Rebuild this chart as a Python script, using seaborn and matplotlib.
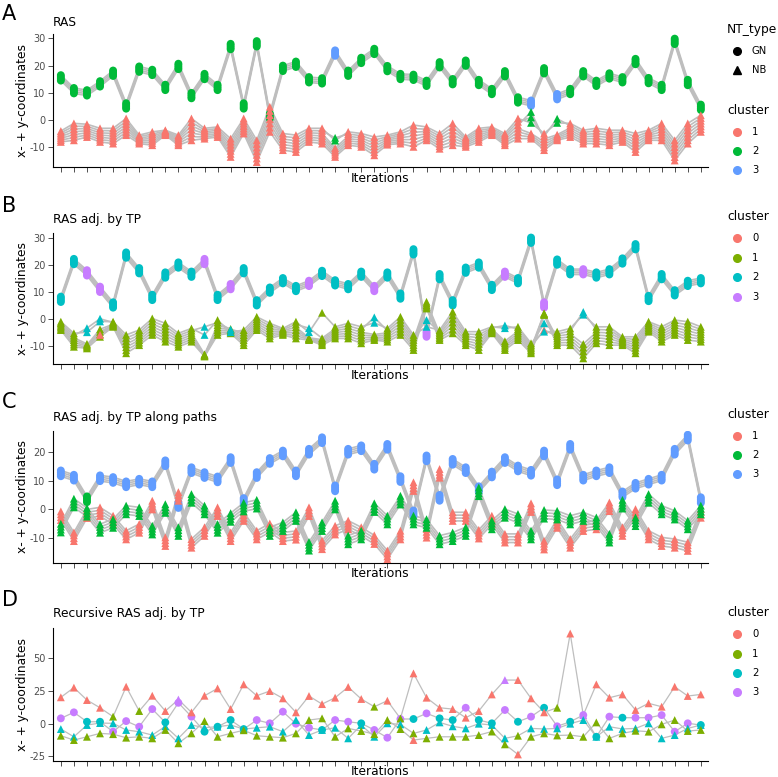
import numpy as np
import pandas as pd
import matplotlib.pyplot as plt
import seaborn as sns
from matplotlib.lines import Line2D

iterations = list(range(1, 51))

# Panel A - RAS
a_gn = [15.5, 10.8, 10, 13.3, 17.2, 5.2, 18.7, 17.5, 12, 19.7, 9, 16, 12, 27, 5.2, 28, 1.5, 19, 20.5, 14.8,
        14.4, 24.6, 17.2, 21.9, 25.2, 18.9, 16, 15.7, 13.5, 20.3, 14.1, 20.9, 13.8, 10.5, 17, 7.4, 6.2, 18.1, 8.6, 10.5,
        17, 13.5, 16.2, 14.8, 21.5, 14.5, 12, 28.9, 13.8, 4.7]
a_gn_other = [22, 37, 39]   # GN iterations in cluster 3
a_nb_lo = [-8, -7.4, -6.2, -8, -8.6, -5.5, -8.6, -9.2, -5.5, -9.2, -7.4, -6.8, -6.2, -13.5, -4.9, -15.4, -4.3, -11, -11.7, -8,
           -8.6, -13.5, -9.2, -9.8, -12.9, -9, -8.6, -9.8, -7.4, -10.5, -9.2, -9.8, -8, -5.5, -9.2, -6.8, -6.8, -11, -7.4, -6.2,
           -8.6, -8.6, -9.2, -8, -11.7, -7.4, -7.4, -14.8, -8.6, -4.3]
a_nb_hi = [-4, -1.2, -1.5, -3, -3, 0.6, -5.5, -4.3, -3.7, -5.5, 0.6, -3, -2.5, -6.8, 0.6, -7.4, 4.9, -4.9, -5.5, -3,
           -3, -8.6, -4.3, -4.9, -6.2, -5.5, -4.3, -1.8, -2.5, -4.9, -1.2, -6.2, -3, -2.5, -4.9, 0.6, -3, -4.9, -4.3, -1.2,
           -3.7, -3, -3.7, -3.7, -4.9, -3.7, -1.2, -7.4, -1.2, 1.8]
# (iteration, low, high, cluster, n items)
a_nb_alt = [(22, -7.5, -6.5, '2', 2), (37, -1, 3, '2', 3), (39, -1, 0.5, '2', 2)]

# Panel B - RAS adj. by TP
b_gn = [7.2, 21.2, 17, 10.9, 5.1, 23.6, 17.8, 7.9, 16.2, 19.9, 16.5, 21.2, 7.9, 11.9, 17.8, 5.9, 10.6, 14.1, 11.2, 13.1,
        16.8, 13.3, 11.9, 16.5, 11.2, 16.2, 8.4, 24.8, -5.7, 15.6, 5.9, 18, 19.9, 11.6, 16.5, 14.1, 29.1, 5.1, 21, 17.4,
        17.4, 16.2, 17.4, 21.4, 26.7, 7.5, 15.6, 9.6, 13.1, 14.1]
b_gn_other = [3, 4, 12, 14, 20, 25, 29, 35, 38, 41]   # GN iterations in cluster 3
b_nb_lo = [-4.2, -10.4, -11, -6.7, -3, -12.8, -9.8, -6, -8.5, -10.4, -8.5, -14, -6, -5.4, -9.8, -4.2, -7.3, -6, -7.3, -7.9,
           -9.8, -7.3, -7.3, -9.1, -7.9, -8.5, -6, -11.6, 3.8, -7.9, -5.4, -9.8, -11.6, -5.4, -11.6, -7.9, -12.8, 1.4, -9.8, -9.8,
           -14.7, -9.1, -9.8, -9.8, -12.8, -4.8, -8.5, -6, -7.9, -8.5]
b_nb_hi = [-1.1, -5.4, -8.5, -1.1, -1.1, -6, -4.2, 0.1, -1.7, -5.4, -3.6, -12.8, -0.5, -3, -4.2, 0.7, -1.7, -3.6, -1.1, -6.7,
           -6.7, -3, -1.7, -3, -4.8, -3.6, 0.7, -6, 7.5, -4.2, 2.6, -4.8, -4.8, -3, -6.7, -3, -9.1, 2.6, -4.8, -3.6,
           -6.7, -3, -3, -6.7, -6.7, -1.1, -3, -0.5, -1.1, -3]
b_nb_alt = [(3, -5, -3.5, '2', 2), (4, -1, 0, '2', 2), (4, -6, -5, '0', 1), (12, -6, -3, '2', 2), (14, -5, -4, '2', 2),
            (20, -5, -3.5, '2', 2), (21, 2.2, 2.2, '1', 1), (25, -1.5, 0.5, '2', 2), (29, -3, -0.5, '2', 2),
            (35, -3.5, -2.5, '2', 2), (38, -4.8, -1.7, '2', 2), (38, -4.2, -4.2, '0', 1), (41, 1.5, 2.5, '2', 2)]

# Panel C - RAS adj. by TP along paths
c_gn = [12.5, 11, 3.5, 10.8, 10.2, 8.7, 9.6, 8.7, 16, 1.5, 13.6, 11.9, 10.4, 17.1, 2.9, 11.9, 16.8, 19.4, 12.5, 20,
        24, 7.3, 20, 21.2, 14.8, 21.7, 10.5, -1.4, 17.7, 4, 16.5, 13.6, 7, 12.1, 17.1, 14.2, 12.7, 19.4, 9.4, 21.7,
        11, 12.5, 13.6, 5.2, 8.2, 9.6, 11, 20, 24.9, 3.2]
c_gn_other = [3]   # GN iterations in cluster 2
c_red = [-2.2, -9.5, -1.5, -0.8, -3.7, -8.9, -6.6, 1.5, -11.2, 4.5, -11.8, -7.7, -0.8, -9.5, -2.5, -8.9, -6.4, -9.5, -9, -0.8,
         -12.3, -7.2, -5.4, -7.7, -10.5, -15.8, -8.9, 7.9, -8.3, 12.5, -2.5, -2.5, -8.6, -3.7, -10, -10, 0.6, -12.4, -4.9, -11.8,
         -6, -5.4, 0.9, -7.7, -1.4, -8.9, -11.2, -11.8, -12.9, -1.4]
c_green = [-6.5, 2.2, -1, -6.6, -4.9, -0.2, -0.8, -7.2, 0.3, -7.7, 3.8, -0.2, -6.6, -2.8, 0.8, 1.8, -7.7, -6, -2.5, -12.8,
           -6, 1.5, -10.6, -8.9, 0.6, -3.7, 3.2, -3.7, -4.9, -10.6, -9.5, -7.7, 6.1, -5.4, -1.4, -3.1, -8.9, -1.7, -2, -3.7,
           -2.5, -4.3, -10, 1.8, -4.3, 3.8, -0.2, -2, -5.4, -0.2]

# Panel D - Recursive RAS adj. by TP
d_top = [20.2, 27.6, 18.1, 12.2, 5.4, 28.3, 9.7, 21.4, 9.7, 18.5, 8.7, 21.4, 27, 11.2, 30.1, 21.4, 25, 19.4, 8.7, 21.2,
         15, 19.9, 28.1, 18.9, 13, 17.6, 4, 38.5, 19.9, 12.2, 11.2, 4.6, 9.7, 22.4, 33.4, 33.4, 19.4, 8.7, 12.2, 69,
         6.6, 30.1, 19.9, 22.4, 10.5, 15.6, 13, 28.3, 21.2, 22.4]
d_top_cl = [0, 0, 0, 0, 1, 0, 1, 0, 0, 3, 0, 0, 0, 0, 0, 0, 0, 0, 0, 0, 0, 0, 0, 0, 1,
            0, 1, 0, 0, 0, 0, 0, 0, 0, 3, 0, 0, 0, 1, 0, 3, 0, 0, 0, 0, 0, 0, 0, 0, 0]
d_gn = [4.1, 8.7, 1.5, 1.5, -6.1, 2, -2.3, 11.2, 1, 16, 5.4, -6.1, -2.3, 2.8, -4.1, 2.8, 0.3, 9.2, 0, -3.1,
        -4.8, 2.8, 1.5, 0.3, -4.8, -10.7, 3.6, 3.6, 7.9, 4.1, 2.8, 12.2, 2.8, 0.3, 10.5, 1.5, 5.4, 12.2, -2, 1.5,
        6.6, -10, 5.4, 4.6, 4.6, 4.6, 6.6, -6.1, 0.3, -1]
d_gn_cl = [3, 3, 2, 2, 3, 3, 3, 3, 2, 3, 3, 2, 2, 2, 2, 3, 3, 3, 3, 3, 2, 3, 3, 2, 3,
           3, 3, 2, 3, 2, 2, 3, 2, 2, 3, 2, 3, 2, 3, 2, 3, 2, 3, 2, 3, 3, 3, 3, 3, 2]
d_mid = [-4.1, -10, -1, 0.5, 0.3, -4.8, -6.1, -8.7, -2, -11.2, -1, -3, -2.3, -1, -4.1, -3.1, -2.3, -6.1, 2.8, -8.7,
         -4.8, -3.1, -11.2, -1, -10, 0.3, -0.5, -7.4, -4.8, 1, -2, -3.6, 0, -1, -11.2, -9.2, -3.6, -4, -3.6, 0,
         2.8, -10, -2.3, -4, -3.6, 0.3, -11.2, -8.7, -3.6, -1]
d_mid_cl = [2, 2, 2, 2, 2, 2, 2, 2, 2, 2, 2, 2, 2, 2, 2, 2, 2, 2, 2, 2, 2, 2, 2, 2, 2,
            2, 2, 1, 2, 2, 2, 2, 2, 2, 2, 1, 2, 2, 2, 2, 2, 2, 2, 2, 2, 2, 2, 2, 2, 2]
d_low = [-9.2, -12.5, -10, -7.4, -8, -10.7, -10, -11.2, -4.8, -15, -7.4, 2, -10, -7.4, -5, -9.2, -10, -10.7, -7.4, 2.8,
         4.1, -10, -3.6, -5.6, -8, 2.8, -4.1, -12.5, -11.2, -10, -10, -10, -8.7, -6, -15.8, -23.5, -10, -7.4, -9, -8.7,
         -10, 1, -11.2, -7.4, -5.4, -6.1, -0.5, 2.8, -5.6, -4.8]
d_low_cl = [1, 1, 1, 1, 1, 1, 1, 1, 1, 1, 1, 1, 1, 1, 1, 1, 1, 1, 1, 1, 1, 1, 1, 1, 1,
            1, 1, 0, 1, 1, 1, 1, 1, 1, 1, 0, 1, 1, 1, 1, 1, 1, 1, 1, 1, 1, 1, 1, 1, 1]

PAL3 = {'1': '#F8766D', '2': '#00BA38', '3': '#619CFF'}
PAL4 = {'0': '#F8766D', '1': '#7CAE00', '2': '#00BFC4', '3': '#C77CFF'}

GN_OFF = [-1.0, -0.35, 0.35, 1.0]
N_NB = 7


def gn_rows(vals, main_cl, other_cl, other_its):
    rows = []
    for k, off in enumerate(GN_OFF):
        for i, it in enumerate(iterations):
            cl = other_cl if it in other_its else main_cl
            rows.append((it, vals[i] + off, f'gn{k}', 'GN', cl))
    return rows


def nb_rows(lo, hi, cl_main, alt):
    rows = []
    for i, it in enumerate(iterations):
        ys = [lo[i] + (hi[i] - lo[i]) * k / (N_NB - 1) for k in range(N_NB)]
        cls = [cl_main] * N_NB
        slot = N_NB - 1
        for a_it, a_lo, a_hi, a_cl, a_n in alt:
            if a_it != it:
                continue
            for j in range(a_n):
                ys[slot] = a_lo + (a_hi - a_lo) * j / max(a_n - 1, 1)
                cls[slot] = a_cl
                slot -= 1
        for k in range(N_NB):
            rows.append((it, ys[k], f'nb{k}', 'NB', cls[k]))
    return rows


def sub_rows(vals, cl, tag, offs):
    rows = []
    for k, off in enumerate(offs):
        for i, it in enumerate(iterations):
            rows.append((it, vals[i] + off, f'{tag}{k}', 'NB', cl))
    return rows


def series_rows(vals, cls, tag, shape):
    return [(it, vals[i], tag, shape, str(cls[i])) for i, it in enumerate(iterations)]


cols = ['it', 'y', 'item', 'NT_type', 'cluster']
df_a = pd.DataFrame(gn_rows(a_gn, '2', '3', a_gn_other) + nb_rows(a_nb_lo, a_nb_hi, '1', a_nb_alt), columns=cols)
df_b = pd.DataFrame(gn_rows(b_gn, '2', '3', b_gn_other) + nb_rows(b_nb_lo, b_nb_hi, '1', b_nb_alt), columns=cols)
df_c = pd.DataFrame(gn_rows(c_gn, '3', '2', c_gn_other)
                    + sub_rows(c_red, '1', 'r', [-1.5, -0.5, 0.5, 1.5])
                    + sub_rows(c_green, '2', 'g', [-1.5, -0.5, 0.5, 1.5]), columns=cols)
df_d = pd.DataFrame(series_rows(d_gn, d_gn_cl, 'gn', 'GN')
                    + series_rows(d_top, d_top_cl, 'top', 'NB')
                    + series_rows(d_mid, d_mid_cl, 'mid', 'NB')
                    + series_rows(d_low, d_low_cl, 'low', 'NB'), columns=cols)

W, H = 778, 777


def fx(px):
    return px / W


def fy(py):
    return 1 - py / H


fig = plt.figure(figsize=(W / 100, H / 100), dpi=100)

panels = [
    ('A', 'RAS', df_a, PAL3, 34, 167, (-17.2, 31.6), [-10, 0, 10, 20, 30], 14, 22, 1.2),
    ('B', 'RAS adj. by TP', df_b, PAL4, 232.7, 364.3, (-16.9, 31.9), [-10, 0, 10, 20, 30], 206, 220, 1.2),
    ('C', 'RAS adj. by TP along paths', df_c, PAL3, 430.7, 562.7, (-18.5, 27.3), [-10, 0, 10, 20], 402, 417, 1.2),
    ('D', 'Recursive RAS adj. by TP', df_d, PAL4, 628.3, 760.7, (-28.3, 73), [-25, 0, 25, 50], 600, 614, 0.9),
]

LEFT, RIGHT = 53, 708

for letter, title, df, pal, top, bot, ylim, yticks, let_y, tit_y, lw in panels:
    ax = fig.add_axes([fx(LEFT), fy(bot), fx(RIGHT) - fx(LEFT), (bot - top) / H])
    sns.lineplot(data=df, x='it', y='y', units='item', estimator=None, color='#BEBEBE',
                 lw=lw, ax=ax, legend=False, sort=False, zorder=2)
    sns.scatterplot(data=df, x='it', y='y', hue='cluster', style='NT_type',
                    markers={'GN': 'o', 'NB': '^'}, palette=pal, s=32, linewidth=0,
                    ax=ax, legend=False, zorder=3)
    ax.set_xlim(0.4, 50.55)
    ax.set_ylim(*ylim)
    ax.set_xticks(iterations)
    ax.set_xticklabels([])
    ax.set_yticks(yticks)
    ax.set_yticklabels([str(t) for t in yticks])
    ax.tick_params(axis='both', length=3.5, width=0.6, color='#333333', labelsize=7,
                   labelcolor='#4D4D4D', pad=2)
    for s in ['top', 'right']:
        ax.spines[s].set_visible(False)
    for s in ['left', 'bottom']:
        ax.spines[s].set_linewidth(0.8)
    ax.set_xlabel('')
    ax.set_ylabel('')
    fig.text(fx(2), fy(let_y), letter, fontsize=15, ha='left', va='center')
    fig.text(fx(LEFT), fy(tit_y), title, fontsize=8.8, ha='left', va='center')
    fig.text(fx(23), fy((top + bot) / 2), 'x- + y-coordinates', fontsize=8.8, rotation=90,
             ha='center', va='center')
    fig.text(fx((LEFT + RIGHT) / 2), fy(bot + 11), 'Iterations', fontsize=8.8, ha='center', va='center')


def legend_block(title, title_y, entries):
    fig.text(fx(727), fy(title_y), title, fontsize=8.8, ha='left', va='center')
    for lab, y, marker, col in entries:
        fig.add_artist(Line2D([fx(737)], [fy(y)], marker=marker, color=col, markersize=5.5,
                              linestyle='', transform=fig.transFigure))
        fig.text(fx(752), fy(y), lab, fontsize=7.2, ha='left', va='center')


legend_block('NT_type', 29, [('GN', 51, 'o', 'black'), ('NB', 70, '^', 'black')])
legend_block('cluster', 110, [(k, y, 'o', PAL3[k]) for k, y in zip(['1', '2', '3'], [132, 151, 170])])
legend_block('cluster', 217, [(k, y, 'o', PAL4[k]) for k, y in zip(['0', '1', '2', '3'], [238, 257.7, 277, 296.7])])
legend_block('cluster', 414, [(k, y, 'o', PAL3[k]) for k, y in zip(['1', '2', '3'], [435.7, 455, 474])])
legend_block('cluster', 612, [(k, y, 'o', PAL4[k]) for k, y in zip(['0', '1', '2', '3'], [634, 653.7, 673, 692])])

fig.savefig('out.png', dpi=100)
